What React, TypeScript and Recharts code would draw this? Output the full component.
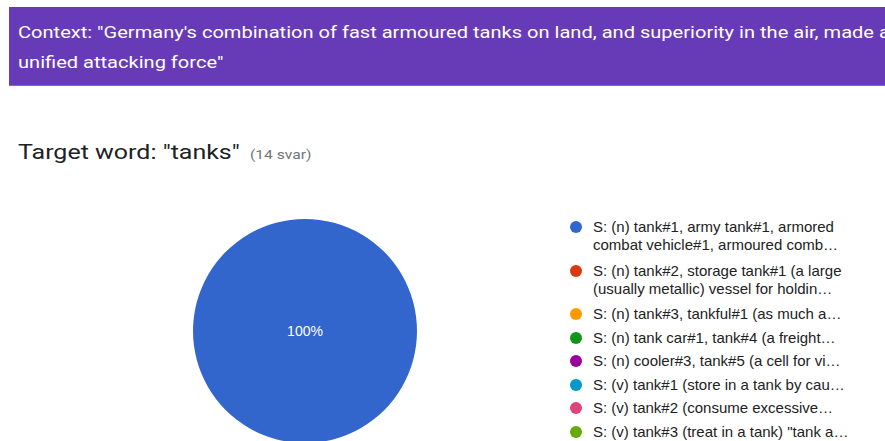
import { PieChart, Pie, Cell, Legend } from "recharts";

const senses = [
  "S: (n) tank#1, army tank#1, armored|combat vehicle#1, armoured comb…",
  "S: (n) tank#2, storage tank#1  (a large|(usually metallic) vessel for holdin…",
  "S: (n) tank#3, tankful#1  (as much a…",
  "S: (n) tank car#1, tank#4  (a freight…",
  "S: (n) cooler#3, tank#5  (a cell for vi…",
  "S: (v) tank#1  (store in a tank by cau…",
  "S: (v) tank#2  (consume excessive…",
  "S: (v) tank#3  (treat in a tank) \"tank a…",
];
const answers = [14, 0, 0, 0, 0, 0, 0, 0];
const colors = [
  "#3366cc",
  "#dc3912",
  "#ff9900",
  "#109618",
  "#990099",
  "#0099c6",
  "#dd4477",
  "#66aa00",
];

const data = senses.map((name, i) => ({ name, value: answers[i] }));
const total = answers.reduce((a, b) => a + b, 0);

const renderLabel = (props: any) => {
  const { cx, cy, midAngle, innerRadius, outerRadius, percent } = props;
  if (!percent || percent < 0.05) return null;
  let x = cx;
  let y = cy;
  if (percent < 1) {
    const r = innerRadius + (outerRadius - innerRadius) * 0.6;
    const rad = (-midAngle * Math.PI) / 180;
    x = cx + r * Math.cos(rad);
    y = cy + r * Math.sin(rad);
  }
  return (
    <text
      x={x}
      y={y}
      fill="#ffffff"
      textAnchor="middle"
      dominantBaseline="central"
      fontSize={14}
      fontFamily="'Liberation Sans', Arial, sans-serif"
    >
      {Math.round(percent * 100)}%
    </text>
  );
};

const renderLegend = () => (
  <div style={{ fontFamily: "'Liberation Sans', Arial, sans-serif", fontSize: 15, color: "#222" }}>
    {data.map((d, i) => {
      const lines = d.name.split("|");
      return (
        <div
          key={i}
          style={{
            display: "flex",
            alignItems: "flex-start",
            marginBottom: lines.length > 1 ? 7.5 : 5.5,
          }}
        >
          <span
            style={{
              width: 12,
              height: 12,
              borderRadius: 6,
              background: colors[i],
              marginTop: 3,
              marginRight: 11,
              flexShrink: 0,
            }}
          />
          <div style={{ lineHeight: "18px", whiteSpace: "nowrap" }}>
            {lines.map((l, j) => (
              <div key={j}>{l}</div>
            ))}
          </div>
        </div>
      );
    })}
  </div>
);

const wide = (scale: number): React.CSSProperties => ({
  display: "inline-block",
  transform: `scaleX(${scale})`,
  transformOrigin: "left center",
});

export default function App() {
  return (
    <div
      style={{
        position: "fixed",
        left: 0,
        top: 0,
        width: 885,
        height: 441,
        overflow: "hidden",
        background: "#ffffff",
      }}
    >
      <div
        style={{
          position: "absolute",
          left: 9,
          top: 7,
          width: 880,
          height: 79,
          background: "#673ab7",
          borderBottom: "1px solid #8a63cc",
          color: "#ffffff",
          fontFamily: "Roboto, sans-serif",
          fontSize: 17,
          lineHeight: "30px",
          paddingTop: 10,
          paddingLeft: 9,
          boxSizing: "border-box",
          whiteSpace: "nowrap",
          overflow: "hidden",
        }}
      >
        <div>
          <span style={wide(1.18)}>
            Context: "Germany's combination of fast armoured tanks on land, and superiority in the air, made a
          </span>
        </div>
        <div>
          <span style={wide(1.18)}>unified attacking force"</span>
        </div>
      </div>
      <div
        style={{
          position: "absolute",
          left: 18,
          top: 140,
          fontFamily: "Roboto, sans-serif",
          whiteSpace: "nowrap",
        }}
      >
        <span style={{ ...wide(1.19), fontSize: 21, color: "#202124" }}>Target word: "tanks"</span>
        <span
          style={{
            ...wide(1.2),
            position: "absolute",
            left: 232,
            top: 7,
            fontSize: 13,
            color: "#70757a",
          }}
        >
          ({total} svar)
        </span>
      </div>
      <div style={{ position: "absolute", left: 0, top: 0 }}>
        <PieChart width={885} height={441} margin={{ top: 0, right: 0, bottom: 0, left: 0 }}>
          <Pie
            data={data}
            dataKey="value"
            nameKey="name"
            cx={305}
            cy={331}
            outerRadius={112}
            startAngle={90}
            endAngle={-270}
            stroke="none"
            label={renderLabel}
            labelLine={false}
            isAnimationActive={false}
          >
            {data.map((d, i) => (
              <Cell key={d.name} fill={colors[i]} />
            ))}
          </Pie>
          <Legend
            layout="vertical"
            verticalAlign="top"
            align="right"
            content={renderLegend}
            wrapperStyle={{ left: 570, top: 218, width: 315 }}
          />
        </PieChart>
      </div>
    </div>
  );
}
